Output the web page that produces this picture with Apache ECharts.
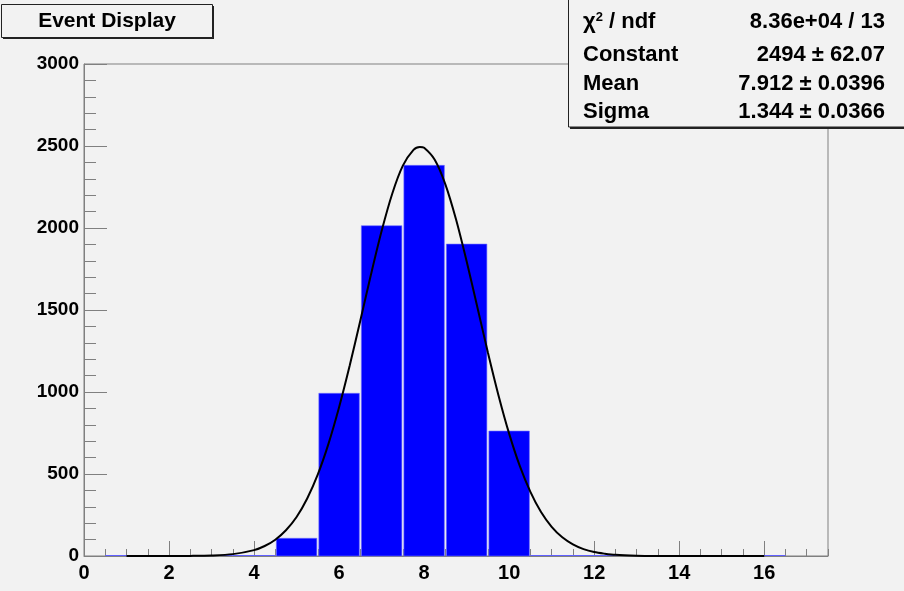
<!DOCTYPE html>
<html>
<head>
<meta charset="utf-8">
<script src="https://cdn.jsdelivr.net/npm/echarts@6/dist/echarts.min.js"></script>
<style>
html,body{margin:0;padding:0;background:#f2f2f2;}
#chart{width:904px;height:591px;}
</style>
</head>
<body>
<div id="chart"></div>
<script>
// Histogram bins (centers, width 1) and counts
const binCenters = [1,2,3,4,5,6,7,8,9,10,11,12,13,14,15,16];
const binCounts  = [0,0,0,0,108,992,2014,2382,1902,762,0,0,0,0,0,0];

// Fitted gaussian curve
const fitX = [1,1.5,2,2.5,3,3.5,4,4.25,4.5,4.75,5,5.25,5.5,5.75,6,6.25,6.5,6.75,7,7.25,7.5,7.75,7.9,8,8.25,8.5,8.75,9,9.25,9.5,9.75,10,10.25,10.5,10.75,11,11.25,11.5,11.75,12,12.25,12.5,13,13.5,14,15,16];
const fitY = [0,0,0.2,0.7,3.1,11.4,36,61,99.5,157,238,351,498,684,907,1161,1436,1716,1981,2209,2380,2476,2494,2489,2416,2266,2053,1797,1520,1241,979,746,549,391,268,178,114,71,42,24,14,7,2,0.4,0.1,0,0];

// Stats box text
const statLabels = ['{t|χ}{s|2}{t| / ndf}', 'Constant', 'Mean', 'Sigma'];
const statValues = ['8.36e+04 / 13', '2494 ± 62.07', '7.912 ± 0.0396', '1.344 ± 0.0366'];
const titleText = 'Event Display';

const AXIS = '#808080';
const LABEL_FONT = '"Liberation Sans", Arial, sans-serif';
const TEXT_FONT = '"Liberation Sans", Arial, sans-serif';

const histData = binCenters.map((c, i) => [c - 0.5, c + 0.5, binCounts[i]]);
const fitData = fitX.map((x, i) => [x, fitY[i]]);

const chart = echarts.init(document.getElementById('chart'), null, {renderer: 'canvas'});

const statRowsY = [22, 55, 84, 112];
const graphics = [
  // title box shadow + box
  {type: 'rect', shape: {x: 3, y: 6, width: 211, height: 33}, style: {fill: '#222'}, z: 10},
  {type: 'rect', shape: {x: 1.5, y: 4.5, width: 211, height: 33}, style: {fill: '#f2f2f2', stroke: '#222', lineWidth: 1}, z: 11},
  {type: 'text', x: 107, y: 21, z: 12, style: {text: titleText, font: 'bold 21px ' + TEXT_FONT, fill: '#000', align: 'center', verticalAlign: 'middle'}},
  // stats box
  {type: 'rect', shape: {x: 570, y: 1, width: 340, height: 128}, style: {fill: '#222'}, z: 10},
  {type: 'rect', shape: {x: 568.5, y: -0.5, width: 340, height: 127.5}, style: {fill: '#f2f2f2', stroke: '#222', lineWidth: 1}, z: 11}
];
statLabels.forEach((lab, i) => {
  graphics.push({type: 'text', x: 583, y: statRowsY[i], z: 12,
    style: {text: lab, font: 'bold 22px ' + TEXT_FONT, fill: '#000', align: 'left', verticalAlign: 'middle',
      rich: {t: {font: 'bold 22px ' + TEXT_FONT, fill: '#000'}, s: {font: 'bold 13px ' + TEXT_FONT, fill: '#000', verticalAlign: 'top', padding: [0,0,10,0]}}}});
  graphics.push({type: 'text', x: 885, y: statRowsY[i], z: 12,
    style: {text: statValues[i], font: 'bold 22px ' + TEXT_FONT, fill: '#000', align: 'right', verticalAlign: 'middle'}});
});

const option = {
  backgroundColor: '#f2f2f2',
  animation: false,
  grid: {left: 84, right: 76, top: 64, bottom: 35, show: true, borderColor: AXIS, borderWidth: 1, backgroundColor: 'transparent', containLabel: false},
  xAxis: [{
    type: 'value', min: 0, max: 17.5, interval: 2, position: 'bottom',
    axisLine: {show: true, onZero: false, lineStyle: {color: AXIS, width: 1}},
    axisTick: {show: true, inside: true, length: 15, lineStyle: {color: AXIS}},
    minorTick: {show: false},
    splitLine: {show: false},
    axisLabel: {show: true, showMaxLabel: false, margin: 7, color: '#000', fontWeight: 'bold', fontSize: 20, fontFamily: LABEL_FONT,
      formatter: function (v) { return String(v); }}
  }, {
    type: 'value', min: 0, max: 17.5, interval: 0.5, position: 'bottom', offset: 0,
    axisLine: {show: false, onZero: false},
    axisTick: {show: true, inside: true, length: 7, lineStyle: {color: AXIS}},
    splitLine: {show: false},
    axisLabel: {show: false}
  }],
  yAxis: [{
    type: 'value', min: 0, max: 3000, interval: 500,
    axisLine: {show: true, onZero: false, lineStyle: {color: AXIS, width: 1}},
    axisTick: {show: true, inside: true, length: 23, lineStyle: {color: AXIS}},
    minorTick: {show: true, splitNumber: 5, length: 12, lineStyle: {color: AXIS}},
    splitLine: {show: false},
    minorSplitLine: {show: false},
    axisLabel: {show: true, margin: 5, color: '#000', fontWeight: 'bold', fontSize: 19, fontFamily: LABEL_FONT,
      formatter: function (v) { return String(v); }}
  }],
  series: [{
    type: 'custom',
    xAxisIndex: 0, yAxisIndex: 0,
    data: histData,
    z: 3,
    renderItem: function (params, api) {
      const lo = api.value(0), hi = api.value(1), v = api.value(2);
      const p0 = api.coord([lo, 0]);
      const p1 = api.coord([hi, v]);
      if (v === 0) {
        return {type: 'line', shape: {x1: p0[0], y1: p0[1] - 0.5, x2: p1[0], y2: p0[1] - 0.5}, style: {stroke: '#6060ff', lineWidth: 1}};
      }
      return {type: 'rect', shape: {x: p0[0] + 1, y: p1[1], width: p1[0] - p0[0] - 2, height: p0[1] - p1[1]},
        style: {fill: '#0000ff', stroke: '#7070ff', lineWidth: 0.6}};
    }
  }, {
    type: 'line',
    xAxisIndex: 0, yAxisIndex: 0,
    data: fitData,
    smooth: 0.3,
    showSymbol: false,
    symbol: 'none',
    z: 5,
    lineStyle: {color: '#000', width: 2}
  }],
  graphic: graphics
};
chart.setOption(option);
</script>
</body>
</html>
